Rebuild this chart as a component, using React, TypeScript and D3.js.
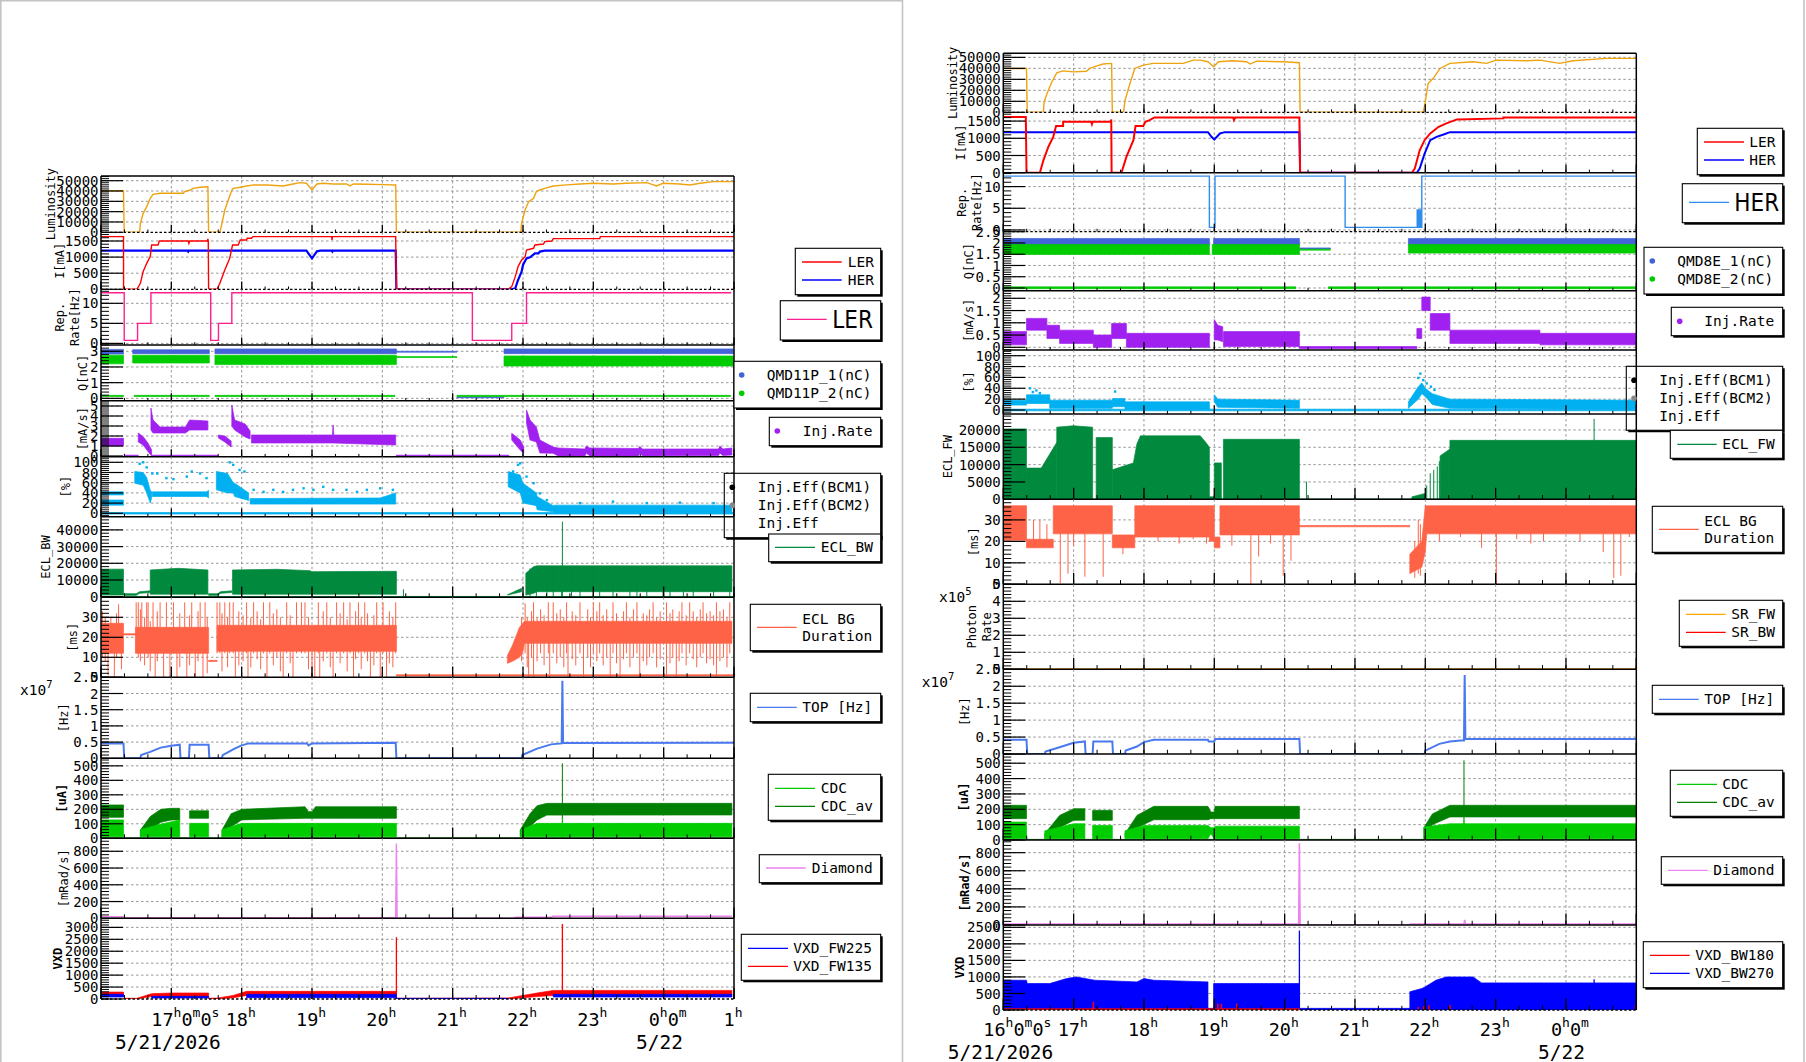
import React from "react";
import * as d3 from "d3";

type Pt = [number, number];
type Bd = [number, number, number];

// Times are hours after midnight of 5/21/2026 (24+ is 5/22).
// Point series: [hour, value]. Band series: runs of [hour, low, high].

// ---------------- left canvas (LER) ----------------
const lumiL: Pt[] = [[16,40400],[16.32,40400],[16.33,0],[16.55,0],[16.56,8700],[16.6,18400],[16.65,24900],[16.7,33000],[16.74,36800],[16.84,37800],[17.17,37800],[17.19,39400],[17.27,41000],[17.31,42600],[17.41,43600],[17.52,44200],[17.53,0],[17.69,0],[17.72,8700],[17.76,21600],[17.81,31300],[17.86,41000],[17.88,42600],[17.98,43600],[18.07,44900],[18.17,45900],[18.36,45900],[18.59,44900],[18.73,46800],[18.83,48100],[18.92,47500],[19.0,41000],[19.07,46800],[19.16,47500],[19.3,46800],[19.49,46800],[19.54,44900],[19.59,46800],[19.78,46500],[20.01,46200],[20.19,45900],[20.2,0],[21.97,0],[21.98,8700],[22.03,21600],[22.08,29700],[22.15,33000],[22.19,39400],[22.24,41000],[22.31,42600],[22.43,44900],[22.62,45900],[22.81,46800],[23.0,47500],[23.28,46800],[23.47,47500],[23.76,48100],[23.9,44900],[23.99,47500],[24.23,46800],[24.37,45900],[24.52,47500],[24.71,49100],[25,49100]];
const lerL: Pt[] = [[16,1635],[16.32,1635],[16.321,0],[16.51,0],[16.56,186],[16.6,550],[16.65,807],[16.7,1014],[16.72,1376],[16.81,1376],[16.83,1500],[17.24,1500],[17.25,1428],[17.26,1500],[17.51,1500],[17.52,1563],[17.525,1500],[17.53,0],[17.65,0],[17.69,186],[17.76,600],[17.83,962],[17.87,1376],[17.95,1376],[17.98,1532],[18.07,1532],[18.08,1584],[18.14,1584],[18.16,1635],[19.28,1635],[19.285,1532],[19.29,1635],[20.19,1635],[20.2,0],[21.79,0],[21.84,83],[21.89,393],[21.93,704],[21.98,911],[22.03,1014],[22.05,1221],[22.15,1273],[22.17,1376],[22.29,1407],[22.31,1480],[22.41,1500],[22.43,1573],[23.09,1573],[23.1,1635],[25,1635]];
const herL: Pt[] = [[16,1200],[17.23,1200],[17.24,1170],[17.25,1200],[18.92,1200],[19.0,962],[19.07,1180],[19.12,1200],[19.28,1200],[19.29,1170],[19.3,1200],[20.19,1200],[20.2,0],[21.84,0],[21.89,31],[21.93,290],[21.98,549],[22.0,756],[22.05,962],[22.1,993],[22.17,1118],[22.22,1118],[22.24,1170],[22.31,1200],[25,1200]];
const repL: Pt[] = [[16,12.65],[16.33,0.75],[16.52,5],[16.71,12.65],[17.56,0.75],[17.67,5],[17.86,12.65],[21.28,0.75],[21.84,5],[22.05,12.65],[24.96,12.65]];
const qBlueL: Bd[][] = [
  [[16,2.82,3.12],[16.32,2.82,3.12]],
  [[16.45,2.85,3.1],[17.54,2.85,3.1]],
  [[17.62,2.85,3.15],[20.2,2.85,3.15]],
  [[20.2,2.94,3.0],[21.06,2.94,3.0]],
  [[21.73,2.85,3.15],[24.99,2.85,3.15]],
  [[21.06,0.04,0.1],[21.73,0.04,0.1]],
];
const qGreenL: Bd[][] = [
  [[16,2.2,2.75],[16.32,2.2,2.75]],
  [[16.45,2.25,2.75],[17.54,2.25,2.75]],
  [[17.62,2.15,2.75],[20.2,2.15,2.75]],
  [[20.2,2.6,2.66],[21.06,2.6,2.66]],
  [[21.73,2.06,2.7],[24.99,2.06,2.7]],
  [[16,0.12,0.19],[16.32,0.12,0.19]],
  [[16.47,0.12,0.19],[17.54,0.12,0.19]],
  [[17.62,0.12,0.19],[20.18,0.12,0.19]],
  [[21.06,0.12,0.19],[24.95,0.12,0.19]],
];
const rateL: Bd[][] = [
  [[16,1.0,1.77],[16.32,1.0,1.77]],
  [[16.53,1.4,2.3],[16.6,1.1,1.93],[16.67,0.43,1.27],[16.72,0,0.6]],
  [[16.71,2.6,4.8],[16.74,2.3,3.6],[16.84,2.3,2.9],[17.2,2.3,2.9],[17.26,2.6,3.6],[17.52,2.6,3.5]],
  [[17.67,1.8,2.1],[17.76,1.4,2.0],[17.85,0.9,1.5]],
  [[17.86,3.0,5.1],[17.9,2.6,3.6],[18.05,1.9,3.2],[18.12,1.7,2.5]],
  [[18.14,1.3,2.1],[19.29,1.3,2.1],[19.3,1.3,3.1],[19.31,1.3,2.1],[20.19,1.1,2.1]],
  [[21.84,1.6,2.27],[21.96,0.6,1.6],[22.01,0.27,0.93]],
  [[22.05,3.3,4.6],[22.1,1.6,3.6],[22.19,1.4,2.9],[22.24,0.3,1.6],[22.43,0.27,0.9],[22.5,0,0.8],[22.88,0,0.7],[22.9,0.3,1.0],[22.95,0,0.8],[23.64,0,0.75],[23.66,0.3,0.95],[23.7,0,0.7],[24.78,0.05,0.7],[24.8,0.3,1.0],[24.84,0.05,0.7],[24.97,0.1,0.8]],
  [[16.33,-0.03,0.08],[16.53,-0.03,0.08]],
  [[16.73,-0.03,0.08],[17.66,-0.03,0.08]],
  [[20.2,-0.03,0.08],[21.8,-0.03,0.08]],
];
const effL: Bd[][] = [
  [[16,-1.5,1.5],[25,-1.5,1.5]],
  [[16,16,26],[16.32,16,26]],
  [[16,36,42],[16.32,36,42]],
  [[16.48,59,82],[16.6,55,80],[16.65,40,70],[16.7,20,45],[16.72,30,42]],
  [[16.73,33,42],[17.5,33,42],[17.53,30,45]],
  [[17.64,46,82],[17.8,40,78],[17.88,40,60],[17.9,33,59],[18.1,25,40]],
  [[18.12,18,29],[19.97,18,30],[20.19,18,40]],
  [[21.79,52,82],[21.96,40,75],[22.0,20,59],[22.19,15,40],[22.2,7,33],[22.43,3,15],[22.45,1,16],[24.97,1,16]],
];
const effDotsL: Pt[] = [[16.55,97],[16.6,100],[16.65,90],[16.73,78],[16.8,78],[16.93,69],[17.03,67],[17.22,72],[17.29,82],[17.41,78],[17.5,69],[17.83,100],[17.88,95],[17.97,85],[18.04,82],[18.17,46],[18.31,42],[18.45,46],[18.59,42],[18.73,46],[18.88,49],[19.02,46],[19.16,52],[19.3,46],[19.49,46],[19.64,42],[19.78,46],[19.97,49],[20.15,46],[21.86,82],[21.93,95],[21.96,98],[22.05,72],[22.15,59],[22.24,39],[22.34,26],[22.81,20],[23.28,23],[23.76,20],[24.23,21],[24.71,20]];
const eclBwL: Bd[][] = [
  [[16,-150,150],[25,-150,150]],
  [[16,1000,16500],[16.32,1000,16500]],
  [[16.33,800,1800],[16.5,800,1800],[16.55,2000,3000],[16.7,2500,3500]],
  [[16.7,1500,16000],[17.1,1500,17000],[17.52,1500,16000]],
  [[17.53,800,1800],[17.66,800,1800],[17.7,2000,3000],[17.86,2500,3500]],
  [[17.87,1500,16000],[18.5,1500,16400],[18.97,1500,15600],[19.0,1500,15000],[20.2,1500,15200]],
  [[21.78,1000,1200],[21.98,3000,5000]],
  [[22.04,1000,14000],[22.15,2000,18000],[22.2,3000,18500],[24.97,3000,18500]],
];
const eclBwSpikesL: Bd[] = [[20.3,0,4400],[22.56,0,45000],[22.1,0,17000],[22.19,0,17500],[22.34,0,18000],[22.43,0,18000],[22.55,0,18000],[22.69,0,18000],[22.81,0,18000],[23.0,0,18000],[23.09,0,18000],[23.28,0,18000],[23.52,0,18000],[23.62,0,18000],[23.76,0,18000],[23.99,0,18000],[24.09,0,18000],[24.28,0,18000],[24.42,0,18000],[24.71,0,18000],[24.94,0,18000]];
const eclBgL: Bd[][] = [
  [[16,12,27],[16.32,12,27]],
  [[16.32,21.2,21.8],[16.49,21.2,21.8]],
  [[16.49,12,25],[17.53,12,25]],
  [[17.53,7.9,8.5],[17.65,7.9,8.5]],
  [[17.65,13,26],[20.2,13,26]],
  [[20.2,0.7,1.3],[25,0.7,1.3]],
  [[21.78,7,11],[21.85,8,16],[21.95,10,25],[22.0,13,27],[22.02,17,28],[24.97,17,28]],
];
const eclBgSpikesL: Bd[] = [
  [16.02,10,33],[16.06,8,30],[16.1,1,25],[16.14,12,30],[16.19,0,23],[16.22,10,32],[16.25,15,36.5],[16.29,4,27],
  [16.5,12,37.5],[16.53,10,37.5],[16.56,8,34],[16.58,12,37.5],[16.62,6,30],[16.65,12,37.5],[16.67,10,37.5],[16.7,3,28],[16.74,12,37.5],[16.77,0,25],[16.8,8,33],[16.84,12,37.5],[16.89,0,25],[16.93,12,37.5],[16.98,0,25],[17.03,12,37.5],[17.08,0,25],[17.12,5,32],[17.19,12,37.5],[17.22,0,25],[17.26,6,31],[17.29,12,37.5],[17.34,0,25],[17.38,8,33],[17.41,12,37.5],[17.45,0,25],[17.48,12,37.5],[17.51,2,30],
  [17.65,12,37.5],[17.69,12,37.5],[17.72,3,32],[17.76,12,37.5],[17.8,5,30],[17.83,12,37.5],[17.88,12,37.5],[17.91,0,25],[17.96,6,33],[18.02,8,31],[18.07,12,37.5],[18.09,0,25],[18.13,5,30],[18.17,12,37.5],[18.22,9,33],[18.27,4,29],[18.31,12,37.5],[18.36,0,25],[18.4,12,37.5],[18.45,6,32],[18.5,10,34],[18.55,3,30],[18.59,0,25],[18.64,12,37.5],[18.69,7,31],[18.73,0,25],[18.78,12,37.5],[18.85,12,37.5],[18.9,12,37.5],[18.95,4,30],[19.0,0,25],[19.04,0,25],[19.09,12,37.5],[19.11,0,25],[19.16,8,33],[19.21,12,37.5],[19.26,5,30],[19.3,0,25],[19.35,12,37.5],[19.4,7,32],[19.45,12,37.5],[19.5,3,29],[19.54,12,37.5],[19.59,0,25],[19.62,9,33],[19.66,12,37.5],[19.7,4,30],[19.75,12,37.5],[19.79,8,32],[19.83,0,25],[19.88,6,31],[19.92,12,37.5],[19.97,0,25],[20.01,12,37.5],[20.06,0,25],[20.1,7,33],[20.15,5,30],[20.19,12,37.5],
  [21.98,8,30],[22.03,12,37],[22.06,5,30],[22.08,0,25],[22.12,10,33],[22.15,0,37.5],[22.2,8,30],[22.25,12,34],[22.3,6,31],[22.36,12,37.5],[22.38,0,25],[22.43,12,37.5],[22.48,7,32],[22.53,10,34],[22.58,5,30],[22.62,12,37.5],[22.64,0,25],[22.7,9,33],[22.75,6,31],[22.81,12,37.5],[22.86,0,25],[22.92,10,34],[22.96,5,30],[23.0,12,37.5],[23.05,8,33],[23.09,12,37.5],[23.14,6,31],[23.19,10,34],[23.24,0,25],[23.28,12,37.5],[23.33,7,32],[23.38,0,25],[23.43,9,33],[23.47,12,37.5],[23.52,5,30],[23.57,10,34],[23.62,12,37.5],[23.66,0,25],[23.71,8,32],[23.76,6,31],[23.8,10,34],[23.85,12,37.5],[23.9,5,30],[23.95,9,33],[24.04,0,37.5],[24.09,7,32],[24.13,10,34],[24.18,0,25],[24.22,8,33],[24.26,12,37.5],[24.32,6,31],[24.37,12,37.5],[24.42,9,33],[24.47,5,30],[24.52,10,34],[24.56,12,37.5],[24.61,7,32],[24.66,9,33],[24.71,6,31],[24.75,0,37.5],[24.8,8,33],[24.85,10,34],[24.9,5,30],[24.94,12,37.5],
];
const topL: Pt[] = [[16,0.46],[16.32,0.46],[16.33,0],[16.56,0],[16.57,0.1],[16.7,0.2],[16.85,0.33],[17.0,0.39],[17.12,0.42],[17.13,0],[17.25,0],[17.26,0.42],[17.53,0.42],[17.54,0],[17.72,0],[17.73,0.1],[17.9,0.3],[18.0,0.4],[18.1,0.46],[18.93,0.46],[18.95,0.4],[19.0,0.46],[20.19,0.48],[20.2,0],[21.98,0],[21.99,0.1],[22.2,0.3],[22.4,0.43],[22.55,0.46],[22.56,2.39],[22.57,0.47],[25,0.48]];
const cdcAvL: Bd[][] = [
  [[16,-3,4],[25,-3,4]],
  [[16,145,230],[16.32,145,230]],
  [[16.56,12,57],[16.7,60,150],[16.85,110,200],[17.0,127,207],[17.12,127,207]],
  [[17.26,138,190],[17.53,138,190]],
  [[17.72,12,57],[17.85,80,170],[18.0,127,200],[18.9,138,218],[18.95,138,184],[19.0,138,184],[19.05,138,218],[20.2,138,218]],
  [[21.96,12,57],[22.1,80,170],[22.2,127,225],[22.34,160,241],[24.97,161,241]],
];
const cdcL: Bd[][] = [
  [[16,11,127],[16.32,11,127]],
  [[16.56,11,60],[16.8,11,92],[17.12,11,127]],
  [[17.26,11,103],[17.53,11,103]],
  [[17.72,11,60],[18.0,11,103],[20.2,11,103]],
  [[21.97,11,60],[22.2,11,103],[24.97,11,103]],
];
const cdcAvSpikesL: Bd[] = [[22.56,0,517]];
const cdcSpikesL: Bd[] = [[22.56,0,138]];
const diaL: Pt[] = [[16,20],[16.32,20],[16.33,8],[20.19,8],[20.2,892],[20.21,0],[21.88,0],[21.89,12],[22.41,12],[22.42,24],[24.97,24]];
const vxdRedL: Bd[][] = [
  [[16,150,290],[16.32,150,290]],
  [[16.32,0,30],[16.51,0,30],[16.72,100,220],[17.0,83,250],[17.53,83,250]],
  [[17.53,0,30],[17.66,0,40],[17.88,50,150],[18.07,150,320],[20.2,150,320]],
  [[20.2,0,30],[21.79,0,40],[22.0,50,150],[22.2,100,250],[22.43,150,360],[24.97,150,360]],
];
const vxdRedSpikesL: Bd[] = [[20.2,0,2585],[22.56,0,3140]];
const vxdBlueL: Bd[][] = [
  [[16,83,195],[16.32,83,195]],
  [[16.72,40,110],[17.53,40,110]],
  [[18.07,55,195],[20.2,55,195]],
  [[20.2,0,30],[21.79,0,30]],
  [[22.43,83,195],[24.97,83,195]],
];

// ---------------- right canvas (HER) ----------------
const lumiR: Pt[] = [[16,39900],[16.33,39900],[16.34,0],[16.57,0],[16.58,9200],[16.62,16900],[16.69,27600],[16.76,35900],[16.85,37700],[17.0,36800],[17.18,37400],[17.23,39900],[17.33,42300],[17.42,43900],[17.54,44500],[17.55,0],[17.71,0],[17.73,10700],[17.8,26100],[17.87,39900],[17.99,42900],[18.13,44500],[18.56,44500],[18.7,47500],[18.8,47500],[18.91,46000],[18.99,41400],[19.06,46000],[19.27,46900],[19.46,46000],[19.51,43900],[19.6,46600],[19.98,46000],[20.21,45100],[20.22,0],[21.97,0],[21.995,7700],[22.04,26100],[22.11,30700],[22.21,39900],[22.35,44500],[22.68,46000],[22.87,44500],[23.01,47500],[23.44,46900],[23.63,47500],[23.91,44500],[24.1,46900],[24.58,49100],[25,49100]];
const lerR: Pt[] = [[16,1617],[16.32,1617],[16.33,0],[16.52,0],[16.57,360],[16.64,750],[16.71,1042],[16.75,1354],[16.85,1354],[16.851,1480],[17.25,1480],[17.26,1412],[17.27,1480],[17.53,1480],[17.535,1548],[17.54,0],[17.68,0],[17.75,458],[17.85,945],[17.88,1354],[17.99,1354],[18.02,1480],[18.08,1529],[18.15,1607],[19.27,1607],[19.28,1529],[19.3,1607],[20.21,1607],[20.22,0],[21.81,0],[21.85,117],[21.92,652],[21.99,945],[22.07,1140],[22.19,1334],[22.3,1432],[22.45,1549],[23.11,1578],[23.111,1607],[25,1607]];
const herR: Pt[] = [[16,1178],[18.91,1178],[18.96,1042],[19.0,964],[19.08,1140],[19.15,1178],[20.21,1178],[20.22,0],[21.88,0],[21.92,117],[21.99,555],[22.07,945],[22.16,1042],[22.26,1110],[22.35,1178],[25,1178]];
const repR: Pt[] = [[16,12.4],[18.93,0.6],[19.01,12.4],[20.86,0.6],[21.885,4.6],[21.9,0.6],[21.92,4.6],[21.93,0.6],[21.95,12.4],[25,12.4]];
const qBlueR: Bd[][] = [
  [[16,1.9,2.2],[18.93,1.9,2.2]],
  [[18.99,1.9,2.2],[20.21,1.9,2.2]],
  [[20.21,1.73,1.78],[20.65,1.73,1.78]],
  [[21.76,1.9,2.2],[25,1.9,2.2]],
];
const qGreenR: Bd[][] = [
  [[16,1.49,1.93],[18.93,1.49,1.93]],
  [[18.97,1.49,1.93],[20.21,1.49,1.93]],
  [[20.21,1.68,1.72],[20.65,1.68,1.72]],
  [[21.76,1.55,1.93],[25,1.55,1.93]],
  [[16,-0.03,0.05],[20.16,-0.03,0.05]],
  [[20.62,-0.03,0.05],[25,-0.03,0.05]],
];
const rateR: Bd[][] = [
  [[16,0.1,0.64],[16.33,0.1,0.64]],
  [[16.33,0.7,1.18],[16.62,0.7,1.18]],
  [[16.62,0.36,0.9],[16.8,0.36,0.9]],
  [[16.8,0.16,0.7],[17.28,0.16,0.7]],
  [[17.28,0,0.5],[17.54,0,0.5]],
  [[17.54,0.36,0.97],[17.75,0.36,0.97]],
  [[17.75,0,0.57],[18.93,0,0.57]],
  [[19.0,0.3,1.13],[19.05,0.3,0.9],[19.12,0.23,0.84]],
  [[19.13,0.03,0.64],[20.21,0.03,0.64]],
  [[20.21,-0.05,0.03],[21.88,-0.05,0.03]],
  [[21.88,0.36,0.77],[21.95,0.36,0.77]],
  [[21.95,1.5,2.05],[22.07,1.5,2.05]],
  [[22.07,0.7,1.38],[22.35,0.7,1.38]],
  [[22.35,0.16,0.7],[23.63,0.16,0.7]],
  [[23.63,0.1,0.57],[25,0.1,0.57]],
];
const effR: Bd[][] = [
  [[16,-1.5,1.5],[25,-1.5,1.5]],
  [[16,9,18],[16.33,9,18]],
  [[16.33,12,28],[16.66,12,28]],
  [[16.66,3,18],[17.55,3,18]],
  [[17.55,6,21],[17.73,6,21]],
  [[17.73,1,15],[18.93,1,15]],
  [[19.0,15,28],[19.05,5,20],[20.21,3,18]],
  [[21.76,3,15],[21.9,20,43],[21.95,30,50],[22.0,25,40],[22.1,10,30],[22.35,3,20],[25,1,18]],
];
const effDotsR: Pt[] = [[16.38,40],[16.42,33],[16.47,36],[16.52,31],[17.59,34],[21.9,59],[21.93,67],[21.97,55],[22.02,49],[22.08,43],[22.13,37]];
const eclFwR: Bd[][] = [
  [[16,-100,100],[25,-100,100]],
  [[16,0,20300],[16.33,0,20300]],
  [[16.33,0,9000],[16.54,0,9000],[16.76,0,16400]],
  [[16.76,0,20800],[17.0,0,21200],[17.27,0,20800]],
  [[17.32,0,17800],[17.55,0,17800]],
  [[17.55,0,8500],[17.85,0,10500],[17.9,0,16000],[17.95,0,18300],[18.8,0,18300],[18.88,0,16400],[18.93,0,15000]],
  [[18.93,0,700],[19.0,0,700]],
  [[19.0,0,10500],[19.1,0,10500]],
  [[19.13,0,17300],[20.21,0,17300]],
  [[21.81,0,700],[22.0,0,1700]],
  [[22.21,0,12500],[22.35,0,14500]],
  [[22.35,0,17000],[25,0,17000]],
];
const eclFwSpikesR: Bd[] = [[20.31,0,5100],[22.02,0,4000],[22.07,0,7500],[22.12,0,8500],[22.17,0,9500],[22.2,0,11000],[24.4,0,23200]];
const eclBgR: Bd[][] = [
  [[16,20.5,36.6],[16.33,20.5,36.6]],
  [[16.33,17,21],[16.71,17,21]],
  [[16.71,23.5,36.6],[17.55,23.5,36.6]],
  [[17.55,17,23],[17.87,17,23]],
  [[17.87,22,36.6],[18.93,22,36.6]],
  [[18.93,20,36.6],[19.0,20,36.6]],
  [[19.0,17,22],[19.08,17,22]],
  [[19.08,23,36.6],[20.21,23,36.6]],
  [[20.21,26.8,27.4],[21.78,26.8,27.4]],
  [[21.78,5,14],[21.95,8,20],[22.0,15,36.6],[22.02,23.5,36.6],[25,23.5,36.6]],
];
const eclBgSpikesR: Bd[] = [[16.43,17,30],[16.52,17,30],[16.62,17,28],[16.81,0.5,30],[16.92,5,30],[17.0,18,30],[17.16,3.5,30],[17.42,3.5,30],[17.7,14,22],[18.2,20,30],[18.5,19,30],[18.7,21,30],[18.89,19,30],[19.25,18,30],[19.52,0,30],[19.63,13,30],[19.8,19,30],[19.98,4,30],[20.09,11,30],[21.85,3,20],[21.9,5,30],[21.93,4,28],[22.2,20,30],[22.5,22,30],[22.8,17,30],[23.01,0,30],[23.3,21,30],[23.5,19,30],[23.68,20,30],[24.06,24,30],[24.2,20,30],[24.53,15,30],[24.68,3,30],[24.78,4,30],[24.9,22,30]];
const srFwR: Pt[] = [[16,0],[25,0]];
const srBwR: Pt[] = [[16,0],[25,0]];
const topR: Pt[] = [[16,0.42],[16.33,0.42],[16.34,0],[16.59,0],[16.6,0.07],[16.8,0.2],[17.0,0.33],[17.16,0.37],[17.17,0],[17.27,0],[17.28,0.37],[17.55,0.37],[17.56,0],[17.73,0],[17.74,0.1],[17.9,0.22],[18.0,0.35],[18.14,0.42],[18.91,0.42],[18.92,0.37],[19.0,0.37],[19.01,0.44],[20.21,0.44],[20.22,0],[21.99,0],[22.0,0.1],[22.2,0.3],[22.35,0.37],[22.5,0.4],[22.55,0.4],[22.56,2.33],[22.57,0.44],[25,0.44]];
const cdcAvR: Bd[][] = [
  [[16,-3,4],[25,-3,4]],
  [[16,139,226],[16.33,139,226]],
  [[16.59,9,41],[16.8,80,160],[17.0,128,204],[17.16,128,204]],
  [[17.27,128,193],[17.55,128,193]],
  [[17.73,20,41],[17.9,80,160],[18.14,132,219],[18.91,132,219],[18.95,139,182],[19.0,139,182],[19.01,139,219],[20.21,139,219]],
  [[21.98,10,80],[22.1,100,170],[22.35,150,226],[25,150,226]],
];
const cdcR: Bd[][] = [
  [[16,8,117],[16.33,8,117]],
  [[16.59,8,60],[17.0,8,106],[17.16,8,106]],
  [[17.27,8,95],[17.55,8,95]],
  [[17.73,8,60],[18.0,8,95],[18.91,8,95],[18.95,40,80],[19.0,8,80],[19.01,8,90],[20.21,8,90]],
  [[21.98,8,85],[22.35,8,106],[25,8,106]],
];
const cdcAvSpikesR: Bd[] = [[22.55,0,519]];
const cdcSpikesR: Bd[] = [[22.55,0,130]];
const diaR: Pt[] = [[16,11],[20.2,11],[20.21,905],[20.22,0],[21.78,0],[21.79,11],[22.55,11],[22.56,56],[22.57,11],[25,11]];
const vxdBlueR: Bd[][] = [
  [[16,0,900],[16.33,0,900],[16.34,0,800],[16.66,0,800],[16.9,0,950],[17.04,0,1000],[17.3,0,900],[17.9,0,850],[18.0,0,950],[18.14,0,900],[18.91,0,850]],
  [[18.91,0,50],[18.99,0,50]],
  [[18.99,0,800],[20.21,0,800]],
  [[20.21,0,50],[21.78,0,50]],
  [[21.78,0,550],[21.95,0,650],[22.0,0,700],[22.15,0,900],[22.3,0,1000],[22.68,0,1000],[22.8,0,820],[25,0,820]],
];
const vxdBlueSpikesR: Bd[] = [[20.21,0,2400],[24.4,0,930]];
const vxdRedR: Bd[][] = [[[16,0,40],[20.21,0,40]]];
const vxdRedSpikesR: Bd[] = [[17.28,0,250],[19.0,0,180],[19.05,0,200],[19.1,0,190],[19.32,0,200],[21.9,0,90],[21.98,0,120],[22.05,0,140],[22.35,0,150],[24.99,0,150]];

// ---------------- axis tick values ----------------
const lumiTicks = [0, 10000, 20000, 30000, 40000, 50000];
const curTicks = [0, 500, 1000, 1500];
const repTicks = [0, 5, 10];
const qTicksL = [0, 1, 2, 3];
const qTicksR = [0, 0.5, 1, 1.5, 2, 2.5];
const rateTicksL = [0, 1, 2, 3, 4, 5];
const rateTicksR = [0, 0.5, 1, 1.5, 2];
const effTicks = [0, 20, 40, 60, 80, 100];
const eclBwTicks = [0, 10000, 20000, 30000, 40000];
const eclFwTicks = [0, 5000, 10000, 15000, 20000];
const msTicks = [0, 10, 20, 30];
const photonTicks = [0, 1, 2, 3, 4, 5];
const topTicks = [0, 0.5, 1, 1.5, 2, 2.5];
const cdcTicks = [0, 100, 200, 300, 400, 500];
const diaTicks = [0, 200, 400, 600, 800];
const vxdTicksL = [0, 500, 1000, 1500, 2000, 2500, 3000];
const vxdTicksR = [0, 500, 1000, 1500, 2000, 2500];

// ---------------- styling ----------------
const MONO = "'DejaVu Sans Mono', 'Liberation Mono', monospace";
const COND = "'DejaVu Sans Condensed', 'DejaVu Sans', sans-serif";
const COL = {
  lumi: "#efa30f", ler: "#ff0000", her: "#0000ff", repL: "#ff1f8f", repH: "#2f8ded",
  qBlue: "#4363d8", qGreen: "#00cc00", rate: "#a020f0", eff: "#00b0f0", ecl: "#018a3e",
  eclBg: "#ff6347", top: "#4a78ee", cdc: "#00cc00", cdcAv: "#008000", dia: "#ee82ee", sr: "#ffa500",
};

type Series =
  | { kind: "line"; color: string; pts: Pt[]; width?: number; step?: boolean }
  | { kind: "band"; color: string; runs: Bd[][] }
  | { kind: "spikes"; color: string; pts: Bd[]; width?: number }
  | { kind: "dots"; color: string; pts: Pt[] };

type Panel = {
  domain: [number, number]; ticks: number[]; title: string[]; tdx: number[];
  bold?: boolean; dashedBase?: boolean; exp?: { text: string; dx: number; dy: number };
  series: Series[];
};

type Entry = { mark: "line" | "dot" | "none"; color: string; y: number; text: string[]; mx?: number; mx2?: number };
type Legend = { box: [number, number, number, number]; tx: number; entries: Entry[]; big?: boolean; open?: boolean };

type Canvas = {
  id: string; x0: number; x1: number; rows: number[]; panels: Panel[]; legends: Legend[];
  skipFirst: boolean; skipLast: boolean; hourY: number; dateY: number; dateX: number; date2X: number;
};

const panelsL: Panel[] = [
  { domain: [0, 54550], ticks: lumiTicks, title: ["Luminosity"], tdx: [-50.3], dashedBase: true,
    series: [{ kind: "line", color: COL.lumi, pts: lumiL, width: 1.4 }] },
  { domain: [0, 1770], ticks: curTicks, title: ["I[mA]"], tdx: [-41.7], dashedBase: true,
    series: [{ kind: "line", color: COL.her, pts: herL, width: 2.2 }, { kind: "line", color: COL.ler, pts: lerL, width: 1.4 }] },
  { domain: [-0.4, 13.5], ticks: repTicks, title: ["Rep.", "Rate[Hz]"], tdx: [-41, -26],
    series: [{ kind: "line", color: COL.repL, pts: repL, step: true, width: 1.4 }] },
  { domain: [-0.15, 3.4], ticks: qTicksL, title: ["Q[nC]"], tdx: [-18.3],
    series: [{ kind: "band", color: COL.qBlue, runs: qBlueL }, { kind: "band", color: COL.qGreen, runs: qGreenL }] },
  { domain: [-0.07, 5.53], ticks: rateTicksL, title: ["[mA/s]"], tdx: [-18.3],
    series: [{ kind: "band", color: COL.rate, runs: rateL }] },
  { domain: [-6.7, 111], ticks: effTicks, title: ["[%]"], tdx: [-35.3],
    series: [{ kind: "band", color: COL.eff, runs: effL }, { kind: "dots", color: COL.eff, pts: effDotsL }] },
  { domain: [-360, 47900], ticks: eclBwTicks, title: ["ECL_BW"], tdx: [-55],
    series: [{ kind: "band", color: COL.ecl, runs: eclBwL }, { kind: "spikes", color: COL.ecl, pts: eclBwSpikesL }] },
  { domain: [0, 40], ticks: msTicks, title: ["[ms]"], tdx: [-28.3],
    series: [{ kind: "band", color: COL.eclBg, runs: eclBgL }, { kind: "spikes", color: COL.eclBg, pts: eclBgSpikesL }] },
  { domain: [0, 2.5], ticks: topTicks, title: ["[Hz]"], tdx: [-37.7], exp: { text: "7", dx: -81, dy: 17.7 },
    series: [{ kind: "line", color: COL.top, pts: topL, width: 2 }] },
  { domain: [0, 552], ticks: cdcTicks, title: ["[uA]"], tdx: [-39.3], bold: true,
    series: [{ kind: "band", color: COL.cdcAv, runs: cdcAvL }, { kind: "spikes", color: COL.cdcAv, pts: cdcAvSpikesL },
      { kind: "band", color: COL.cdc, runs: cdcL }, { kind: "spikes", color: COL.cdc, pts: cdcSpikesL }] },
  { domain: [0, 955], ticks: diaTicks, title: ["[mRad/s]"], tdx: [-37.7],
    series: [{ kind: "line", color: COL.dia, pts: diaL, width: 1.4 }] },
  { domain: [0, 3380], ticks: vxdTicksL, title: ["VXD"], tdx: [-43.7], bold: true, dashedBase: true,
    series: [{ kind: "band", color: COL.ler, runs: vxdRedL }, { kind: "spikes", color: COL.ler, pts: vxdRedSpikesL, width: 1.3 },
      { kind: "band", color: COL.her, runs: vxdBlueL }] },
];

const panelsR: Panel[] = [
  { domain: [0, 53700], ticks: lumiTicks, title: ["Luminosity"], tdx: [-50.6], dashedBase: true,
    series: [{ kind: "line", color: COL.lumi, pts: lumiR, width: 1.4 }] },
  { domain: [0, 1755], ticks: curTicks, title: ["I[mA]"], tdx: [-42.3],
    series: [{ kind: "line", color: COL.her, pts: herR, width: 2 }, { kind: "line", color: COL.ler, pts: lerR, width: 2 }] },
  { domain: [-0.4, 13.2], ticks: repTicks, title: ["Rep.", "Rate[Hz]"], tdx: [-41.6, -26.6], dashedBase: true,
    series: [{ kind: "line", color: COL.repH, pts: repR, step: true, width: 1.4 }] },
  { domain: [-0.12, 2.5], ticks: qTicksR, title: ["Q[nC]"], tdx: [-35],
    series: [{ kind: "band", color: COL.qBlue, runs: qBlueR }, { kind: "band", color: COL.qGreen, runs: qGreenR }] },
  { domain: [-0.11, 2.31], ticks: rateTicksR, title: ["[mA/s]"], tdx: [-35],
    series: [{ kind: "band", color: COL.rate, runs: rateR }] },
  { domain: [-7.4, 110.5], ticks: effTicks, title: ["[%]"], tdx: [-35],
    series: [{ kind: "band", color: COL.eff, runs: effR }, { kind: "dots", color: COL.eff, pts: effDotsR }] },
  { domain: [0, 24600], ticks: eclFwTicks, title: ["ECL_FW"], tdx: [-55.6],
    series: [{ kind: "band", color: COL.ecl, runs: eclFwR }, { kind: "spikes", color: COL.ecl, pts: eclFwSpikesR }] },
  { domain: [0, 39.6], ticks: msTicks, title: ["[ms]"], tdx: [-29.3],
    series: [{ kind: "band", color: COL.eclBg, runs: eclBgR }, { kind: "spikes", color: COL.eclBg, pts: eclBgSpikesR }] },
  { domain: [0, 5], ticks: photonTicks, title: ["Photon", "Rate"], tdx: [-31.6, -16.6], exp: { text: "5", dx: -64.3, dy: 17.4 },
    series: [{ kind: "line", color: COL.ler, pts: srBwR, width: 1 }, { kind: "line", color: COL.sr, pts: srFwR, width: 1.4 }] },
  { domain: [0, 2.5], ticks: topTicks, title: ["[Hz]"], tdx: [-38.3], exp: { text: "7", dx: -81.6, dy: 17.4 },
    series: [{ kind: "line", color: COL.top, pts: topR, width: 2 }] },
  { domain: [0, 560], ticks: cdcTicks, title: ["[uA]"], tdx: [-40], bold: true,
    series: [{ kind: "band", color: COL.cdcAv, runs: cdcAvR }, { kind: "spikes", color: COL.cdcAv, pts: cdcAvSpikesR },
      { kind: "band", color: COL.cdc, runs: cdcR }, { kind: "spikes", color: COL.cdc, pts: cdcSpikesR }] },
  { domain: [0, 940], ticks: diaTicks, title: ["[mRad/s]"], tdx: [-39], bold: true,
    series: [{ kind: "line", color: COL.dia, pts: diaR, width: 1.6 }] },
  { domain: [0, 2570], ticks: vxdTicksR, title: ["VXD"], tdx: [-44], bold: true, dashedBase: true,
    series: [{ kind: "band", color: COL.her, runs: vxdBlueR }, { kind: "spikes", color: COL.her, pts: vxdBlueSpikesR, width: 1.3 },
      { kind: "band", color: COL.ler, runs: vxdRedR }, { kind: "spikes", color: COL.ler, pts: vxdRedSpikesR, width: 1.5 }] },
];

const legendsL: Legend[] = [
  { box: [795.3, 248.3, 880.7, 294.7], tx: 847.7, entries: [
    { mark: "line", color: COL.ler, y: 262, mx: 802, mx2: 841.7, text: ["LER"] },
    { mark: "line", color: COL.her, y: 280, mx: 802, mx2: 841.7, text: ["HER"] }] },
  { box: [780.3, 300.7, 880.7, 340], tx: 832.3, big: true, entries: [
    { mark: "line", color: COL.repL, y: 319.3, mx: 787, mx2: 826.7, text: ["LER"] }] },
  { box: [734, 361.3, 880.7, 408], tx: 766.7, entries: [
    { mark: "dot", color: COL.qBlue, y: 375, mx: 741.7, text: ["QMD11P_1(nC)"] },
    { mark: "dot", color: COL.qGreen, y: 393.3, mx: 741.7, text: ["QMD11P_2(nC)"] }] },
  { box: [769.3, 417.3, 880.7, 445.7], tx: 802.7, entries: [
    { mark: "dot", color: COL.rate, y: 431, mx: 777.3, text: ["Inj.Rate"] }] },
  { box: [724.3, 473.3, 880.7, 537.7], tx: 757.7, open: true, entries: [
    { mark: "dot", color: "#000", y: 487.3, mx: 732.3, text: ["Inj.Eff(BCM1)"] },
    { mark: "dot", color: "#888", y: 505.3, mx: 732.3, text: ["Inj.Eff(BCM2)"] },
    { mark: "none", color: COL.eff, y: 522.7, text: ["Inj.Eff"] }] },
  { box: [768.7, 534, 880.7, 561.7], tx: 820.7, entries: [
    { mark: "line", color: COL.ecl, y: 547.3, mx: 775, mx2: 815, text: ["ECL_BW"] }] },
  { box: [750.3, 604.3, 880.7, 650.7], tx: 802.3, entries: [
    { mark: "line", color: COL.eclBg, y: 627.3, mx: 757, mx2: 796.7, text: ["ECL BG", "Duration"] }] },
  { box: [750.3, 693.3, 880.7, 721.7], tx: 802.3, entries: [
    { mark: "line", color: COL.top, y: 707.3, mx: 757, mx2: 796.7, text: ["TOP [Hz]"] }] },
  { box: [768.3, 774.3, 880.7, 820.3], tx: 820.7, entries: [
    { mark: "line", color: COL.cdc, y: 788.3, mx: 775, mx2: 815, text: ["CDC"] },
    { mark: "line", color: COL.cdcAv, y: 806.3, mx: 775, mx2: 815, text: ["CDC_av"] }] },
  { box: [759.3, 854.7, 880.7, 882.7], tx: 811.7, entries: [
    { mark: "line", color: COL.dia, y: 868, mx: 766, mx2: 805.7, text: ["Diamond"] }] },
  { box: [741.3, 934.3, 880.7, 980.3], tx: 793.3, entries: [
    { mark: "line", color: COL.her, y: 948.3, mx: 748, mx2: 788, text: ["VXD_FW225"] },
    { mark: "line", color: COL.ler, y: 966.3, mx: 748, mx2: 788, text: ["VXD_FW135"] }] },
];

const legendsR: Legend[] = [
  { box: [1697.3, 128.3, 1782.7, 174.7], tx: 1749.3, entries: [
    { mark: "line", color: COL.ler, y: 142, mx: 1704, mx2: 1744, text: ["LER"] },
    { mark: "line", color: COL.her, y: 160, mx: 1704, mx2: 1744, text: ["HER"] }] },
  { box: [1682.3, 183.7, 1782.7, 222.7], tx: 1734.3, big: true, entries: [
    { mark: "line", color: COL.repH, y: 202.3, mx: 1689, mx2: 1729, text: ["HER"] }] },
  { box: [1644, 247.3, 1782.7, 294], tx: 1677.3, entries: [
    { mark: "dot", color: COL.qBlue, y: 261, mx: 1652.3, text: ["QMD8E_1(nC)"] },
    { mark: "dot", color: COL.qGreen, y: 279, mx: 1652.3, text: ["QMD8E_2(nC)"] }] },
  { box: [1671.3, 307.3, 1782.7, 335.7], tx: 1704.3, entries: [
    { mark: "dot", color: COL.rate, y: 321.3, mx: 1679.7, text: ["Inj.Rate"] }] },
  { box: [1626.3, 366.3, 1782.7, 430.3], tx: 1659.3, open: true, entries: [
    { mark: "dot", color: "#000", y: 380.3, mx: 1634, text: ["Inj.Eff(BCM1)"] },
    { mark: "dot", color: "#888", y: 398.3, mx: 1634, text: ["Inj.Eff(BCM2)"] },
    { mark: "none", color: COL.eff, y: 416, text: ["Inj.Eff"] }] },
  { box: [1670.3, 430.3, 1782.7, 458.3], tx: 1722.3, entries: [
    { mark: "line", color: COL.ecl, y: 444.3, mx: 1677.3, mx2: 1716.7, text: ["ECL_FW"] }] },
  { box: [1652.3, 506.3, 1782.7, 552.3], tx: 1704.3, entries: [
    { mark: "line", color: COL.eclBg, y: 529.3, mx: 1659, mx2: 1698.7, text: ["ECL BG", "Duration"] }] },
  { box: [1679.3, 600.3, 1782.7, 646.3], tx: 1731.3, entries: [
    { mark: "line", color: COL.sr, y: 614.3, mx: 1686, mx2: 1725.7, text: ["SR_FW"] },
    { mark: "line", color: COL.ler, y: 632.3, mx: 1686, mx2: 1725.7, text: ["SR_BW"] }] },
  { box: [1652.3, 685.3, 1782.7, 713.3], tx: 1704.3, entries: [
    { mark: "line", color: COL.top, y: 699.3, mx: 1659, mx2: 1698.7, text: ["TOP [Hz]"] }] },
  { box: [1670.3, 770.3, 1782.7, 816.3], tx: 1722.3, entries: [
    { mark: "line", color: COL.cdc, y: 784.3, mx: 1677, mx2: 1717, text: ["CDC"] },
    { mark: "line", color: COL.cdcAv, y: 802.3, mx: 1677, mx2: 1717, text: ["CDC_av"] }] },
  { box: [1661.3, 856.7, 1782.7, 884.3], tx: 1713.3, entries: [
    { mark: "line", color: COL.dia, y: 870.3, mx: 1668, mx2: 1707.7, text: ["Diamond"] }] },
  { box: [1643.3, 941.7, 1782.7, 987.7], tx: 1695.3, entries: [
    { mark: "line", color: COL.ler, y: 955.3, mx: 1650, mx2: 1689.7, text: ["VXD_BW180"] },
    { mark: "line", color: COL.her, y: 973.3, mx: 1650, mx2: 1689.7, text: ["VXD_BW270"] }] },
];

const canvases: Canvas[] = [
  { id: "ler", x0: 101, x1: 734, rows: [176, 232.3, 289.3, 345, 400.7, 456.7, 516.7, 597.3, 677.3, 758.3, 838.3, 918.3, 999],
    panels: panelsL, legends: legendsL, skipFirst: true, skipLast: false, hourY: 1026, dateY: 1049, dateX: 115, date2X: 636 },
  { id: "her", x0: 1003.3, x1: 1636.3, rows: [53.3, 112.3, 172.7, 231.7, 290.7, 350, 414, 499.3, 584.3, 669.3, 754, 840, 925, 1010],
    panels: panelsR, legends: legendsR, skipFirst: false, skipLast: true, hourY: 1036, dateY: 1058.5, dateX: 947.7, date2X: 1538 },
];

const T0 = new Date(2026, 4, 21, 0, 0, 0).getTime();
const at = (h: number) => new Date(T0 + h * 3600000);
const TSTART = at(16);
const TEND = at(25);

function PanelView({ p, i, c, x }: { p: Panel; i: number; c: Canvas; x: d3.ScaleTime<number, number> }) {
  const top = c.rows[i];
  const bottom = c.rows[i + 1];
  const h = bottom - top;
  const y = d3.scaleLinear().domain(p.domain).range([bottom, top]);
  const X = (hh: number) => x(at(hh));
  const clip = `${c.id}-clip-${i}`;
  const eps = 1e-6;
  const inside = (v: number) => v >= p.domain[0] - eps && v <= p.domain[1] + eps;
  const major = p.ticks.filter(inside);
  const mstep = (p.ticks[1] - p.ticks[0]) / 5;
  const minor = d3.range(Math.ceil(p.domain[0] / mstep - eps), Math.floor(p.domain[1] / mstep + eps) + 1).map(k => k * mstep);
  const hours = x.ticks(d3.timeHour.every(1)!);
  const mins = x.ticks(d3.timeMinute.every(20)!);
  const lin = d3.line<Pt>().x(d => X(d[0])).y(d => y(d[1]));
  const stp = d3.line<Pt>().x(d => X(d[0])).y(d => y(d[1])).curve(d3.curveStepAfter);
  const area = d3.area<Bd>().x(d => X(d[0])).y0(d => y(d[1])).y1(d => y(d[2]));
  const fmt = (v: number) => String(+v.toFixed(2));

  return (
    <g>
      <defs>
        <clipPath id={clip}><rect x={c.x0} y={top} width={c.x1 - c.x0} height={h} /></clipPath>
      </defs>
      {/* grid */}
      <g stroke="#8c8c8c" strokeWidth={0.9} strokeDasharray="2.5,2.5">
        {major.filter(v => y(v) > top + 1 && y(v) < bottom - 1).map(v => (
          <line key={`g${v}`} x1={c.x0} x2={c.x1} y1={y(v)} y2={y(v)} />
        ))}
        {hours.filter(d => d > TSTART && d < TEND).map(d => (
          <line key={`v${+d}`} x1={x(d)} x2={x(d)} y1={top} y2={bottom} />
        ))}
      </g>
      {/* data */}
      <g clipPath={`url(#${clip})`}>
        {p.series.map((s, k) => {
          if (s.kind === "band")
            return (
              <g key={k} fill={s.color} stroke={s.color} strokeWidth={0.7} strokeLinejoin="round">
                {s.runs.map((r, j) => <path key={j} d={area(r) || ""} />)}
              </g>
            );
          if (s.kind === "line")
            return <path key={k} d={(s.step ? stp : lin)(s.pts) || ""} fill="none" stroke={s.color} strokeWidth={s.width ?? 1.3} />;
          if (s.kind === "spikes")
            return (
              <g key={k} stroke={s.color} strokeWidth={s.width ?? 1}>
                {s.pts.map((d, j) => <line key={j} x1={X(d[0])} x2={X(d[0])} y1={y(d[1])} y2={y(d[2])} />)}
              </g>
            );
          return (
            <g key={k} fill={s.color}>
              {s.pts.map((d, j) => <rect key={j} x={X(d[0]) - 1.2} y={y(d[1]) - 1.2} width={2.4} height={2.4} />)}
            </g>
          );
        })}
      </g>
      {/* frame */}
      <g stroke="#000" fill="none">
        <line x1={c.x0} x2={c.x0} y1={top} y2={bottom} strokeWidth={1.5} />
        <line x1={c.x1} x2={c.x1} y1={top} y2={bottom} strokeWidth={1.5} />
        {i === 0 && <line x1={c.x0} x2={c.x1} y1={top} y2={top} strokeWidth={1.5} />}
        <line x1={c.x0} x2={c.x1} y1={bottom} y2={bottom} strokeWidth={p.dashedBase ? 1.3 : 1.6}
          strokeDasharray={p.dashedBase ? "2.5,2" : undefined} />
        {/* y ticks */}
        {minor.map(v => <line key={`m${v}`} x1={c.x0} x2={c.x0 + 8} y1={y(v)} y2={y(v)} strokeWidth={1} />)}
        {major.map(v => <line key={`M${v}`} x1={c.x0} x2={c.x0 + 22} y1={y(v)} y2={y(v)} strokeWidth={1.2} />)}
        {/* x ticks */}
        {mins.map(d => <line key={`n${+d}`} x1={x(d)} x2={x(d)} y1={bottom} y2={bottom - 0.05 * h} strokeWidth={1} />)}
        {hours.map(d => <line key={`h${+d}`} x1={x(d)} x2={x(d)} y1={bottom} y2={bottom - 0.135 * h} strokeWidth={1.3} />)}
      </g>
      {/* tick labels */}
      <g fontSize={14} textAnchor="end">
        {major.map(v => (
          <text key={`t${v}`} x={c.x0 - 2.5} y={y(v)} dy="0.36em">{fmt(v)}</text>
        ))}
      </g>
      {p.title.map((t, k) => (
        <text key={`ti${k}`} transform={`translate(${c.x0 + p.tdx[k]},${(top + bottom) / 2}) rotate(-90)`}
          textAnchor="middle" dy="0.35em" fontSize={12} fontWeight={p.bold ? "bold" : "normal"}>{t}</text>
      ))}
      {p.exp && (
        <text x={c.x0 + p.exp.dx} y={top + p.exp.dy} fontSize={14.5}>
          x10<tspan dy={-7} fontSize={10.5}>{p.exp.text}</tspan>
        </text>
      )}
    </g>
  );
}

function HourLabel({ x, y, parts, full, zero }: { x: number; y: number; parts: [string, string][]; full: boolean; zero: boolean }) {
  const digitW = 11.1, supW = 7.8;
  const start = full ? x - 20 : zero ? x - 15 : x - (parts[0][0].length * digitW + supW) / 2 - 1;
  return (
    <text x={start} y={y} fontSize={18.5}>
      {parts.map(([n, u], k) => (
        <React.Fragment key={k}>
          <tspan dy={k === 0 ? 0 : 9.5}>{n}</tspan>
          <tspan dy={-9.5} fontSize={13}>{u}</tspan>
        </React.Fragment>
      ))}
    </text>
  );
}

function LegendView({ L }: { L: Legend }) {
  const [x0, y0, x1, y1] = L.box;
  return (
    <g>
      {L.open ? (
        <path d={`M${x1 + 1},${y0 + 2}V${y1 + 1}H${x0 + 2}`} stroke="#000" strokeWidth={2} fill="none" />
      ) : (
        <rect x={x0 + 2} y={y0 + 2} width={x1 - x0} height={y1 - y0} fill="#000" />
      )}
      <rect x={x0} y={y0} width={x1 - x0} height={y1 - y0} fill={L.open ? "none" : "#fff"} stroke="#000" strokeWidth={1.1} />
      {L.entries.map((e, k) => (
        <g key={k}>
          {e.mark === "line" && <line x1={e.mx} x2={e.mx2} y1={e.y} y2={e.y} stroke={e.color} strokeWidth={1.3} />}
          {e.mark === "dot" && <circle cx={e.mx} cy={e.y} r={2.8} fill={e.color} />}
          {e.text.map((t, j) => (
            <text key={j} x={L.tx} y={e.y + (j - (e.text.length - 1) / 2) * 17.7} dy="0.35em"
              fontSize={L.big ? 24 : 14.5} fontFamily={L.big ? COND : MONO} style={{ whiteSpace: "pre" }}>{t}</text>
          ))}
        </g>
      ))}
    </g>
  );
}

function CanvasView({ c }: { c: Canvas }) {
  const x = d3.scaleTime().domain([TSTART, TEND]).range([c.x0, c.x1]);
  const hours = x.ticks(d3.timeHour.every(1)!);
  const shown = hours.filter((_, k) => !(c.skipFirst && k === 0) && !(c.skipLast && k === hours.length - 1));
  const day2 = hours.find(d => d.getHours() === 0)!;
  return (
    <g>
      {c.panels.map((p, i) => <PanelView key={i} p={p} i={i} c={c} x={x} />)}
      {shown.map((d, k) => {
        const hh = d.getHours();
        const full = k === 0;
        const parts: [string, string][] = full
          ? [[String(hh), "h"], ["0", "m"], ["0", "s"]]
          : hh === 0 ? [["0", "h"], ["0", "m"]] : [[String(hh), "h"]];
        return <HourLabel key={+d} x={x(d)} y={c.hourY} parts={parts} full={full} zero={!full && hh === 0} />;
      })}
      <text x={c.dateX} y={c.dateY} fontSize={19.5}>5/21/2026</text>
      <text x={c.date2X} y={c.dateY} fontSize={19.5}>{`${day2.getMonth() + 1}/${day2.getDate()}`}</text>
      {c.legends.map((L, k) => <LegendView key={k} L={L} />)}
    </g>
  );
}

export default function App() {
  return (
    <div style={{ position: "absolute", left: 0, top: 0, width: 1806, height: 1062, background: "#fff" }}>
      <svg width={1806} height={1062} viewBox="0 0 1806 1062" style={{ display: "block", fontFamily: MONO }}>
        <rect width={1806} height={1062} fill="#fff" />
        {canvases.map(c => <CanvasView key={c.id} c={c} />)}
        <g stroke="#c4c4c4" strokeWidth={1.6} fill="none">
          <path d="M0.8,1062V0.8H902.5V1062" />
          <line x1={1804} x2={1804} y1={0} y2={1062} />
        </g>
      </svg>
    </div>
  );
}
